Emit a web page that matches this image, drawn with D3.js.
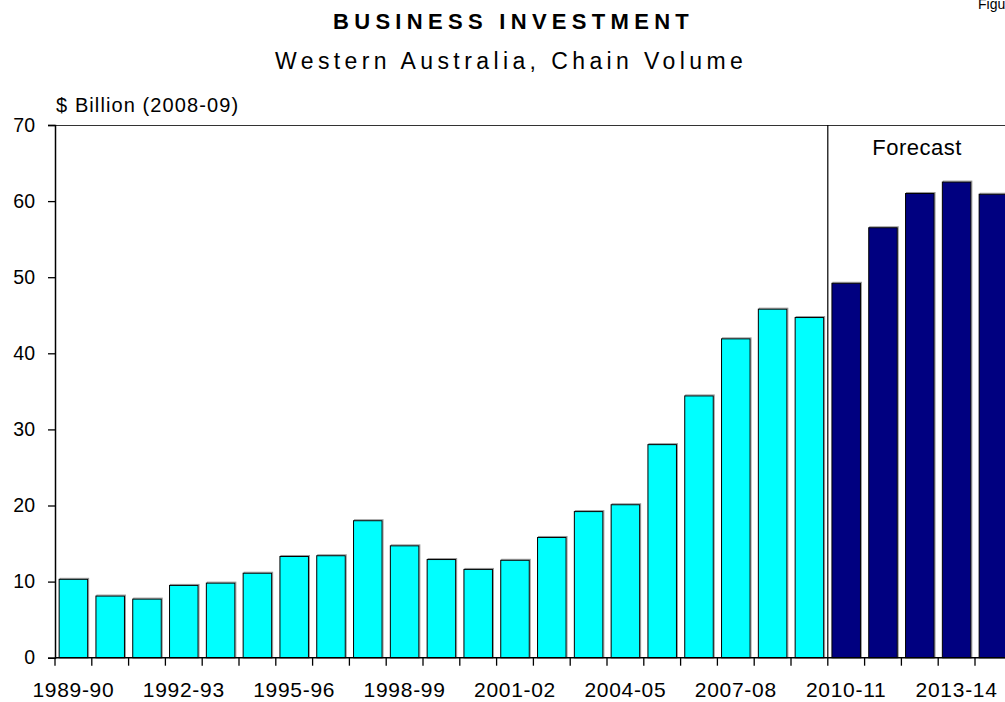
<!DOCTYPE html>
<html>
<head>
<meta charset="utf-8">
<script src="https://cdn.jsdelivr.net/npm/d3@7/dist/d3.min.js"></script>
<style>
  html, body { margin: 0; padding: 0; background: #fff; overflow: hidden; }
  svg { display: block; font-family: Arial, "Liberation Sans", sans-serif; }
</style>
</head>
<body>
<svg id="chart" width="1005" height="702"></svg>
<script>
// Financial years, actual and forecast
const years = ["1989-90","1990-91","1991-92","1992-93","1993-94","1994-95","1995-96",
  "1996-97","1997-98","1998-99","1999-00","2000-01","2001-02","2002-03","2003-04",
  "2004-05","2005-06","2006-07","2007-08","2008-09","2009-10",
  "2010-11","2011-12","2012-13","2013-14","2014-15"];
// Business investment, $ billion (2008-09 chain volume)
const actual = [10.3, 8.1, 7.7, 9.5, 9.8, 11.1, 13.3, 13.4, 18.0, 14.7, 12.9, 11.6,
  12.8, 15.8, 19.2, 20.1, 28.0, 34.4, 41.9, 45.8, 44.7];
const forecast = [49.2, 56.5, 61.0, 62.5, 60.9];
const yTicks = [0, 10, 20, 30, 40, 50, 60, 70];
const xLabelYears = ["1989-90","1992-93","1995-96","1998-99","2001-02","2004-05",
  "2007-08","2010-11","2013-14"];

const bars = years.map((yr, i) => i < actual.length
  ? { year: yr, value: actual[i], kind: "actual" }
  : { year: yr, value: forecast[i - actual.length], kind: "forecast" });

const svg = d3.select("#chart");
const plotLeft = 55, plotBottom = 657.7, plotTop = 125, step = 36.8;

const x = d3.scaleBand().domain(years).range([plotLeft, plotLeft + step * years.length]).padding(0);
const y = d3.scaleLinear().domain([0, 70]).range([plotBottom, plotTop]);
const barW = x.bandwidth() * 0.775;
const barOff = (x.bandwidth() - barW) / 2;

// Titles
svg.append("text").attr("x", 333).attr("y", 29)
  .attr("font-size", 22).attr("font-weight", "bold").attr("letter-spacing", 5.3)
  .text("BUSINESS INVESTMENT");
svg.append("text").attr("x", 275).attr("y", 69)
  .attr("font-size", 23).attr("letter-spacing", 4.4)
  .text("Western Australia, Chain Volume");
svg.append("text").attr("x", 978).attr("y", 9)
  .attr("font-size", 14).text("Figure");

// Unit label
svg.append("text").attr("x", 56).attr("y", 112)
  .attr("font-size", 20).attr("letter-spacing", 1.1)
  .text("$ Billion (2008-09)");

// Top frame line
svg.append("line").attr("x1", plotLeft).attr("x2", 1005)
  .attr("y1", plotTop + 0.5).attr("y2", plotTop + 0.5)
  .attr("stroke", "#333").attr("stroke-width", 1);

// Bars: soft grey edge behind, then the filled bar
const g = svg.append("g");
g.selectAll("rect.shade").data(bars).join("rect")
  .attr("class", "shade")
  .attr("x", d => x(d.year) + barOff + 1)
  .attr("y", d => y(d.value) - 1)
  .attr("width", barW)
  .attr("height", d => plotBottom - y(d.value) + 1)
  .attr("fill", "none").attr("stroke", "#999").attr("stroke-width", 1);
g.selectAll("rect.bar").data(bars).join("rect")
  .attr("class", "bar")
  .attr("x", d => x(d.year) + barOff)
  .attr("y", d => y(d.value))
  .attr("width", barW)
  .attr("height", d => plotBottom - y(d.value))
  .attr("fill", d => d.kind === "actual" ? "#00FFFF" : "#000080")
  .attr("stroke", "#000").attr("stroke-width", 1);

// Forecast divider
const divX = x(years[actual.length]);
svg.append("line").attr("x1", divX).attr("x2", divX)
  .attr("y1", plotTop).attr("y2", plotBottom)
  .attr("stroke", "#000").attr("stroke-width", 1.2);
svg.append("text").attr("x", 917).attr("y", 155)
  .attr("text-anchor", "middle").attr("font-size", 22).attr("letter-spacing", 0.5)
  .text("Forecast");

// Y axis
const yAxis = svg.append("g").attr("transform", `translate(${plotLeft},0)`)
  .call(d3.axisLeft(y).tickValues(yTicks).tickSize(7).tickPadding(13).tickFormat(d3.format("d")));
yAxis.select(".domain").attr("stroke", "#000").attr("stroke-width", 1.5);
yAxis.selectAll(".tick line").attr("stroke", "#000").attr("stroke-width", 1.3);
yAxis.selectAll("text").attr("font-size", 19.5).attr("fill", "#000")
  .attr("font-family", "Arial, 'Liberation Sans', sans-serif");

// X axis: ticks at category boundaries, labels every third year
const boundaries = years.map(yr => x(yr));
const xAxisG = svg.append("g");
xAxisG.append("line").attr("x1", plotLeft).attr("x2", 1005)
  .attr("y1", plotBottom).attr("y2", plotBottom)
  .attr("stroke", "#000").attr("stroke-width", 1.5);
xAxisG.selectAll("line.tk").data(boundaries).join("line")
  .attr("class", "tk")
  .attr("x1", d => d).attr("x2", d => d)
  .attr("y1", plotBottom).attr("y2", plotBottom + 8)
  .attr("stroke", "#000").attr("stroke-width", 1.3);
xAxisG.selectAll("text").data(xLabelYears).join("text")
  .attr("x", d => x(d) + x.bandwidth() / 2)
  .attr("y", 696.5)
  .attr("text-anchor", "middle")
  .attr("font-size", 21).attr("letter-spacing", 0.7)
  .text(d => d);
</script>
</body>
</html>
